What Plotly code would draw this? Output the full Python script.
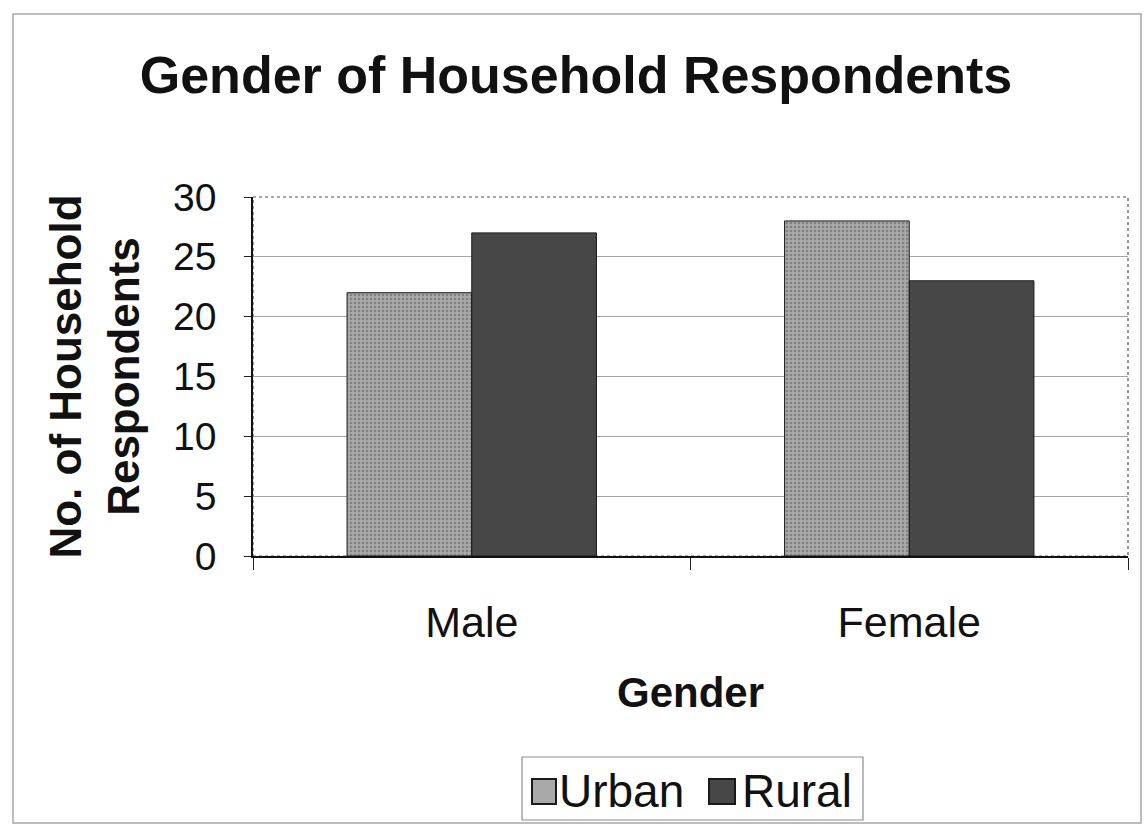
import plotly.graph_objects as go

# Survey data: household respondents by gender and location
genders = ["Male", "Female"]
urban = [22, 28]
rural = [27, 23]
series_names = ["Urban", "Rural"]
y_ticks = [0, 5, 10, 15, 20, 25, 30]

W, H = 1145, 827
M_L, M_R, M_T, M_B = 253, 17, 197, 271
PLOT_W = W - M_L - M_R
PLOT_H = H - M_T - M_B

URBAN_FILL = "#a9a9a9"
URBAN_DOT = "#5a5a5a"
RURAL_FILL = "#474747"
FONT = "Liberation Sans, Arial, sans-serif"


def px_x(px):
    """Pixel column -> paper x."""
    return (px - M_L) / PLOT_W


def px_y(py):
    """Pixel row -> paper y."""
    return (H - M_B - py) / PLOT_H


fig = go.Figure()
fig.add_trace(go.Bar(
    name=series_names[0], x=genders, y=urban,
    marker=dict(
        color=URBAN_FILL,
        line=dict(color="#1a1a1a", width=1),
        pattern=dict(shape=".", fgcolor=URBAN_DOT, bgcolor=URBAN_FILL,
                     size=4, solidity=0.35),
    ),
))
fig.add_trace(go.Bar(
    name=series_names[1], x=genders, y=rural,
    marker=dict(color=RURAL_FILL, line=dict(color="#1a1a1a", width=1)),
))

shapes = [
    # dotted plot-area frame (top and right edges)
    dict(type="rect", xref="paper", yref="paper", x0=0, x1=1, y0=0, y1=1,
         line=dict(color="#555555", width=1.2, dash="dot"), layer="below"),
    # outer chart border
    dict(type="rect", xref="paper", yref="paper",
         x0=px_x(13), x1=px_x(1141), y0=px_y(823), y1=px_y(14),
         line=dict(color="#a8a8a8", width=1.5)),
    # legend box
    dict(type="rect", xref="paper", yref="paper",
         x0=px_x(522), x1=px_x(863), y0=px_y(820), y1=px_y(757),
         line=dict(color="#8c8c8c", width=1.2), fillcolor="white"),
    # legend swatches
    dict(type="rect", xref="paper", yref="paper",
         x0=px_x(532), x1=px_x(556), y0=px_y(804), y1=px_y(779),
         line=dict(color="#1a1a1a", width=2), fillcolor=URBAN_FILL),
    dict(type="rect", xref="paper", yref="paper",
         x0=px_x(709), x1=px_x(735), y0=px_y(804), y1=px_y(779),
         line=dict(color="#1a1a1a", width=2), fillcolor=RURAL_FILL),
]

annotations = [
    dict(text=series_names[0], xref="paper", yref="paper",
         x=px_x(557), y=px_y(791), xanchor="left", yanchor="middle",
         showarrow=False, font=dict(family=FONT, size=46, color="#111111")),
    dict(text=series_names[1], xref="paper", yref="paper",
         x=px_x(740), y=px_y(791), xanchor="left", yanchor="middle",
         showarrow=False, font=dict(family=FONT, size=46, color="#111111")),
]

fig.update_layout(
    width=W, height=H,
    margin=dict(l=M_L, r=M_R, t=M_T, b=M_B, pad=0),
    paper_bgcolor="white", plot_bgcolor="white",
    barmode="group", bargap=0.43, bargroupgap=0,
    showlegend=False,
    font=dict(family=FONT, color="#111111"),
    title=dict(
        text="<b>Gender of Household Respondents</b>",
        x=576 / W, xanchor="center",
        y=1 - 75 / H, yanchor="middle", yref="container",
        font=dict(family=FONT, size=52, color="#111111"),
    ),
    xaxis=dict(
        type="category", tickson="boundaries",
        ticks="outside", ticklen=12, tickcolor="#222222", tickwidth=1,
        showline=True, linecolor="#111111", linewidth=1.5,
        showgrid=False, tickfont=dict(family=FONT, size=43, color="#111111"),
        ticklabelstandoff=28,
        title=dict(text="<b>Gender</b>", standoff=32,
                   font=dict(family=FONT, size=42, color="#111111")),
    ),
    yaxis=dict(
        range=[0, 30], tickvals=y_ticks,
        ticks="outside", ticklen=7, tickcolor="#222222", tickwidth=1,
        showline=True, linecolor="#111111", linewidth=1.5,
        showgrid=True, gridcolor="#a6a6a6", gridwidth=1.2,
        zeroline=False,
        tickfont=dict(family=FONT, size=39, color="#111111"),
        ticklabelstandoff=20,
        title=dict(text="<b>No. of Household<br>Respondents</b>", standoff=20,
                   font=dict(family=FONT, size=44, color="#111111")),
    ),
    shapes=shapes,
    annotations=annotations,
)

fig.write_html("out.html")
